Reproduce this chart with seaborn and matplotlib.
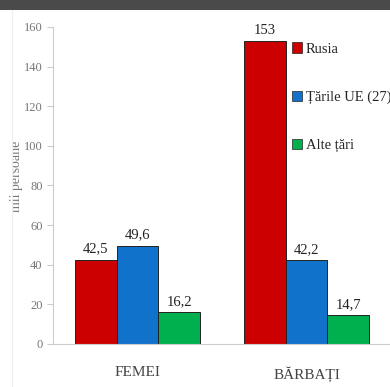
import pandas as pd
import numpy as np
import matplotlib.pyplot as plt
import matplotlib.patches as mpatches
import seaborn as sns

# ── data ──────────────────────────────────────────────
categories = ['FEMEI', 'BĂRBAȚI']
series     = ['Rusia', 'Țările UE (27)', 'Alte țări']
rusia      = [42.5, 153]
ue27       = [49.6, 42.2]
alte       = [16.2, 14.7]
yticks     = [0, 20, 40, 60, 80, 100, 120, 140, 160]

colors = ['#CC0000', '#1172CC', '#00B04F']

df = pd.DataFrame({
    'sex':    categories * 3,
    'grupa':  [s for s in series for _ in categories],
    'valoare': rusia + ue27 + alte,
})

sns.set_style('white')
plt.rcParams['font.family'] = ['Liberation Serif', 'DejaVu Serif']

fig = plt.figure(figsize=(3.9, 3.87), dpi=100)
fig.patch.set_facecolor('white')

# dark band on top + faint frame line on the left
fig.add_artist(mpatches.Rectangle((0, 1 - 10 / 387), 1, 10 / 387,
                                  transform=fig.transFigure, color='#4a4a4a', lw=0))
fig.add_artist(plt.Line2D([12 / 390, 12 / 390], [0, 1 - 10 / 387],
                          transform=fig.transFigure, color='#eeeeee', lw=0.8))

ax = fig.add_axes([53 / 390, 1 - 344 / 387, 338 / 390, 317 / 387])
sns.barplot(data=df, x='sex', y='valoare', hue='grupa', order=categories,
            hue_order=series, palette=colors, width=0.745, ax=ax,
            edgecolor='#222222', linewidth=0.7, saturation=1)

ax.set_ylim(0, 160)
ax.set_xlim(-0.5, 1.5)
ax.set_yticks(yticks)
ax.set_yticklabels([str(t) for t in yticks], color='#777777', fontsize=9)
ax.set_ylabel('mii persoane', color='#777777', fontsize=10)
ax.yaxis.set_label_coords(-0.09, 0.53)
ax.set_xlabel('')
ax.tick_params(axis='x', which='major', length=0, labelsize=11, pad=16, colors='#444444')
ax.set_xticks([0.5, 1.5], minor=True)
ax.tick_params(axis='x', which='minor', length=4, color='#cccccc', direction='out')
ax.tick_params(axis='y', length=4, color='#cccccc', direction='out', left=True)

for side in ['top', 'right']:
    ax.spines[side].set_visible(False)
for side in ['left', 'bottom']:
    ax.spines[side].set_color('#cccccc')
    ax.spines[side].set_linewidth(0.8)

for cont in ax.containers:
    labels = [f'{v:g}'.replace('.', ',') for v in cont.datavalues]
    ax.bar_label(cont, labels=labels, padding=3, fontsize=10.5, color='#222222')

handles = [mpatches.Patch(facecolor=c, edgecolor='#222222', lw=0.5) for c in colors]
ax.legend(handles, series, loc='upper left', bbox_to_anchor=(0.69, 0.97),
          frameon=False, fontsize=10.5, handlelength=0.7, handleheight=0.7,
          handletextpad=0.25, labelspacing=2.4, borderaxespad=0)

fig.savefig('out.png', dpi=100)
